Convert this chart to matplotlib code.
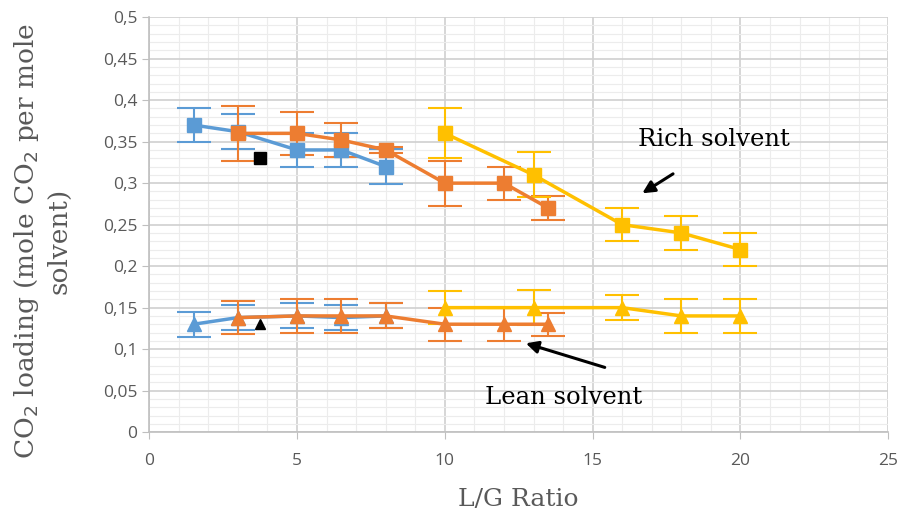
import numpy as np
import matplotlib
matplotlib.use('Agg')
import matplotlib.pyplot as plt
from matplotlib.ticker import MultipleLocator, FuncFormatter

# data
blue_x = [1.5, 3, 5, 6.5, 8]
blue_rich = [0.37, 0.362, 0.34, 0.34, 0.32]
blue_rich_err = [0.021, 0.021, 0.021, 0.021, 0.021]
blue_lean = [0.13, 0.138, 0.14, 0.138, 0.14]
blue_lean_err = [0.015, 0.015, 0.015, 0.015, 0.015]

orange_x = [3, 5, 6.5, 8, 10, 12, 13.5]
orange_rich = [0.36, 0.36, 0.352, 0.34, 0.30, 0.30, 0.27]
orange_rich_err = [0.033, 0.026, 0.02, 0.004, 0.027, 0.02, 0.015]
orange_lean = [0.138, 0.14, 0.14, 0.14, 0.13, 0.13, 0.13]
orange_lean_err = [0.02, 0.021, 0.021, 0.015, 0.02, 0.02, 0.014]

yellow_x = [10, 13, 16, 18, 20]
yellow_rich = [0.36, 0.31, 0.25, 0.24, 0.22]
yellow_rich_err = [0.03, 0.027, 0.02, 0.02, 0.02]
yellow_lean = [0.15, 0.15, 0.15, 0.14, 0.14]
yellow_lean_err = [0.02, 0.021, 0.015, 0.021, 0.021]

black_x = [3.75]
black_rich = [0.33]
black_lean = [0.13]

series = [
    (blue_x, blue_rich, blue_rich_err, blue_lean, blue_lean_err, '#5B9BD5'),
    (orange_x, orange_rich, orange_rich_err, orange_lean, orange_lean_err, '#ED7D31'),
    (yellow_x, yellow_rich, yellow_rich_err, yellow_lean, yellow_lean_err, '#FFC000'),
]

fig = plt.figure(figsize=(8.99, 5.2), dpi=100)
ax = fig.add_axes([0.166, 0.169, 0.822, 0.798])

for xs, rich, rich_err, lean, lean_err, col in series:
    ax.errorbar(xs, rich, yerr=rich_err, color=col, marker='s', ms=9.5, lw=2.5,
                elinewidth=1.5, capsize=12, capthick=1.5)
    ax.errorbar(xs, lean, yerr=lean_err, color=col, marker='^', ms=9.5, lw=2.5,
                elinewidth=1.5, capsize=12, capthick=1.5)

ax.plot(black_x, black_rich, 's', color='black', ms=9)
ax.plot(black_x, black_lean, '^', color='black', ms=7.5)

ax.set_xlim(0, 25)
ax.set_ylim(0, 0.5)
ax.xaxis.set_major_locator(MultipleLocator(5))
ax.xaxis.set_minor_locator(MultipleLocator(1))
ax.yaxis.set_major_locator(MultipleLocator(0.05))
ax.yaxis.set_minor_locator(MultipleLocator(0.01))
ax.yaxis.set_major_formatter(FuncFormatter(lambda v, p: ('%g' % round(v, 2)).replace('.', ',')))

ax.grid(which='major', color='#d0d0d0', lw=1.2)
ax.grid(which='minor', color='#ececec', lw=0.8)
ax.set_axisbelow(True)

for s in ['top', 'right']:
    ax.spines[s].set_visible(False)
for s in ['left', 'bottom']:
    ax.spines[s].set_color('#bfbfbf')
    ax.spines[s].set_linewidth(1.2)

ax.tick_params(which='major', colors='#bfbfbf', labelcolor='#595959', length=5,
               labelsize=12.5)
ax.tick_params(which='minor', length=0)
for lab in ax.get_xticklabels() + ax.get_yticklabels():
    lab.set_family('Open Sans')
ax.tick_params(axis='x', pad=10)

label_font = dict(family='DejaVu Serif', fontsize=18, color='#595959')
ax.set_xlabel('L/G Ratio', labelpad=14, **label_font)
ax.set_ylabel('CO$_2$ loading (mole CO$_2$ per mole\nsolvent)', linespacing=1.3,
              ha='center', family='DejaVu Serif', fontsize=19, color='#595959')
ax.yaxis.set_label_coords(-0.105, 0.46)

ann_font = dict(family='DejaVu Serif', fontsize=17.5, color='black')
ax.text(16.54, 0.353, 'Rich solvent', ha='left', va='center', **ann_font)
ax.text(11.37, 0.042, 'Lean solvent', ha='left', va='center', **ann_font)
ax.annotate('', xy=(16.6, 0.286), xytext=(17.8, 0.313),
            arrowprops=dict(arrowstyle='-|>', color='black', lw=2.2, mutation_scale=18))
ax.annotate('', xy=(12.65, 0.108), xytext=(15.5, 0.077),
            arrowprops=dict(arrowstyle='-|>', color='black', lw=2.2, mutation_scale=18))

fig.savefig('out.png', dpi=100)
